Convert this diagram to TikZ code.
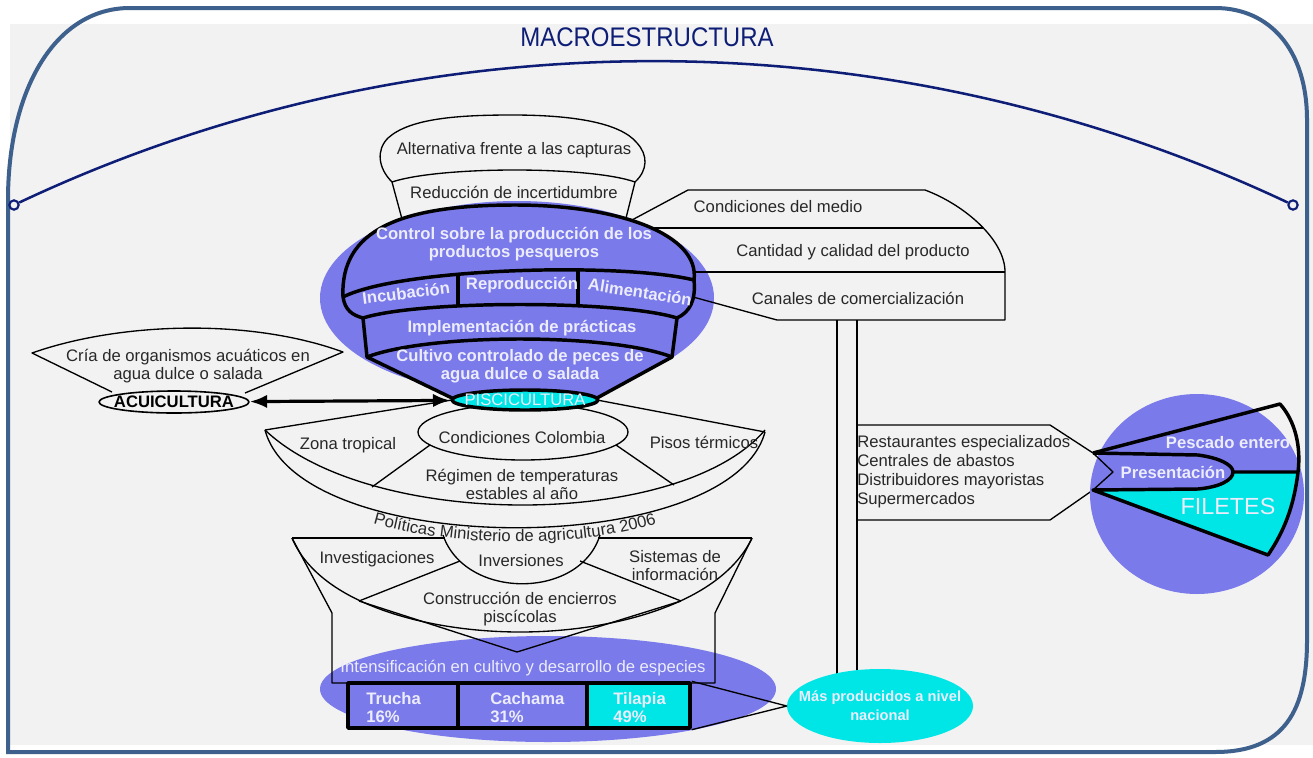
\documentclass[tikz,border=0pt]{standalone}
\usepackage{fontspec}
\setmainfont{Liberation Sans}
\usetikzlibrary{arrows.meta}
\usetikzlibrary{shapes.geometric}
\usetikzlibrary{decorations.text}
\definecolor{lila}{RGB}{122,122,234}
\definecolor{turquesa}{RGB}{0,229,229}
\definecolor{claro}{RGB}{236,236,252}
\definecolor{marino}{RGB}{14,30,118}
\definecolor{acero}{RGB}{62,96,140}
\definecolor{fondo}{RGB}{242,242,242}
\definecolor{tinta}{RGB}{40,40,40}
\tikzset{trazo/.style={draw=#1,line width=1pt,line join=round},trazo/.default=black}
\tikzset{grueso/.style={draw=#1,line width=2.6pt,line join=round},grueso/.default=black}

\begin{document}
\begin{tikzpicture}[x=0.75pt,y=-0.75pt,
                    rotulo/.style={text=tinta,font=\fontsize{12.5}{13.5}\selectfont,align=center,inner sep=0pt},
                    rotulob/.style={text=claro,font=\fontsize{12.5}{13.5}\selectfont\bfseries,align=center,inner sep=0pt},
                    elipse/.style={ellipse,inner sep=0pt},
                    celda/.style={rectangle,grueso,inner sep=0pt,minimum height=33.75pt}]

    % Fondo y marco
    \fill [white] (0,0) rectangle (1313,757);
    \fill [fondo] (10,24) rectangle (1313,745);
    \useasboundingbox (0,0) rectangle (1313,757);
    \draw [acero,line width=3pt] (8,752) -- (8,200) .. controls (8,90) and (55,8) .. (130,8)
        -- (1215,8) .. controls (1270,8) and (1307,50) .. (1307,120)
        -- (1307,640) .. controls (1307,710) and (1285,752) .. (1215,752) -- cycle;

    % Titulo y arco
    \node [text=marino,font=\fontsize{18}{20}\selectfont,yscale=1.12] (titulo) at (647,37) {MACROESTRUCTURA};
    \node [circle,draw=marino,fill=fondo,line width=1.6pt,minimum size=7pt,inner sep=0pt] (izq) at (14,205) {};
    \node [circle,draw=marino,fill=fondo,line width=1.6pt,minimum size=7pt,inner sep=0pt] (der) at (1293,205) {};
    \draw [marino,line width=1.9pt] (izq) .. controls (419,14) and (888,14) .. (der);

    % Elipse lila de arriba
    \fill [lila] (517,298) ellipse [x radius=197, y radius=97];

    % Cupula
    \draw [trazo] (392,182) .. controls (378,168) and (376,150) .. (388,138)
        .. controls (410,118) and (460,115) .. (512,115)
        .. controls (570,115) and (620,122) .. (637,143)
        .. controls (648,155) and (648,170) .. (635,182);
    \draw [trazo] (392,182) .. controls (440,166) and (590,166) .. (635,182);
    \draw [trazo] (392,182) -- (402,219) (635,182) -- (626,218);
    \node [rotulo] (alternativa) at (514,150) {Alternativa frente a las capturas};
    \node [rotulo] (reduccion) at (514,192) {Reducción de incertidumbre};

    % Bloque del control
    \filldraw [grueso,fill=lila] (343,297) .. controls (340,230) and (400,205) .. (515,205)
        .. controls (620,205) and (700,235) .. (694,280)
        .. controls (696,300) and (690,312) .. (677,318) -- (672,357) -- (597,398)
        -- (452,398) -- (367,357) -- (363,318)
        .. controls (352,315) and (345,310) .. (343,297) -- cycle;
    \draw [grueso] (343,297) .. controls (400,268) and (620,262) .. (694,280);
    \draw [grueso] (363,318) .. controls (420,300) and (620,300) .. (677,318);
    \draw [grueso] (367,357) .. controls (430,333) and (610,333) .. (672,357);
    \draw [grueso] (458,274) -- (458,306) (578,270) -- (578,306);
    \node [rotulob] (control) at (514,244) {Control sobre la producción de los\\productos pesqueros};
    \node [rotulob,rotate=7] (incubacion) at (406,293) {Incubación};
    \node [rotulob] (reproduccion) at (522,285) {Reproducción};
    \node [rotulob,rotate=-9] (alimentacion) at (640,292) {Alimentación};
    \node [rotulob] (practicas) at (522,328) {Implementación de prácticas};
    \node [rotulob] (cultivo) at (520,366) {Cultivo controlado de peces de\\agua dulce o salada};

    % Condiciones, cantidad, canales
    \draw [trazo] (632,220) -- (688,190) -- (925,190) .. controls (965,205) and (1005,240) .. (1005,272)
        -- (1005,320) -- (777,320) -- (693,297);
    \draw [trazo] (650,228) -- (983,228);
    \draw [trazo] (695,272) -- (1005,272);
    \node [rotulo] (medio) at (778,207) {Condiciones del medio};
    \node [rotulo] (cantidad) at (853,252) {Cantidad y calidad del producto};
    \node [rotulo] (canales) at (858,298) {Canales de comercialización};

    % Acuicultura
    \draw [trazo] (112,392) -- (32,353) .. controls (120,322) and (250,318) .. (343,352) -- (245,393);
    \node [rotulo] (cria) at (188,366) {Cría de organismos acuáticos en\\agua dulce o salada};
    \node [elipse,trazo,line width=1.2pt,fill=fondo,minimum width=112.5pt,minimum height=16.5pt] (acui) at (174,402) {};
    \node [rotulo,font=\fontsize{12.5}{13.5}\selectfont\bfseries,text=black] at (acui) {ACUICULTURA};

    % Condiciones Colombia
    \draw [trazo] (452,400) -- (265,430) (597,400) -- (765,432);
    \draw [trazo] (265,430) .. controls (370,530) and (680,530) .. (765,430);
    \draw [trazo] (265,430) .. controls (300,560) and (730,560) .. (765,432);
    \draw [trazo] (430,445) -- (372,487) (616,445) -- (674,485);
    \node [elipse,trazo,fill=fondo,minimum width=157.5pt,minimum height=42pt] (cond) at (523,432) {};
    \node [rotulo] at (522,438) {Condiciones Colombia};
    \node [rotulo] (zona) at (348,445) {Zona tropical};
    \node [rotulo] (pisos) at (704,442) {Pisos térmicos};
    \node [rotulo] (regimen) at (522,484) {Régimen de temperaturas\\estables al año};
    \path [decorate,decoration={text along path,text align=center,text color=tinta,
        text={|\fontsize{12.5}{14}\selectfont|Políticas Ministerio de agricultura 2006}}]
        (265,444) .. controls (300,574) and (730,574) .. (765,446);

    % Piscicultura
    \node [elipse,grueso,fill=turquesa,minimum width=109.5pt,minimum height=15pt] (pisci) at (525,400) {};
    \node [rotulo,text=claro] at (pisci) {PISCICULTURA};
    \draw [line width=2.4pt,{Latex[length=13pt,width=10pt]}-{Latex[length=13pt,width=10pt]}] (acui) -- (pisci);

    % Elipse lila de abajo
    \fill [lila] (548,689) ellipse [x radius=228, y radius=53];

    % Investigaciones
    \draw [trazo] (292,538) -- (445,538) (598,538) -- (752,538);
    \draw [trazo] (292,538) -- (332,613) -- (332,683) -- (715,683) -- (715,613) -- (752,538);
    \draw [trazo] (292,538) .. controls (320,605) and (430,632) .. (520,632)
        .. controls (610,632) and (720,605) .. (752,538);
    \draw [trazo] (359,601) -- (517,652) -- (681,601);
    \draw [trazo] (443,535) .. controls (465,600) and (580,600) .. (600,535);
    \draw [trazo] (460,561) -- (359,601) (580,561) -- (681,601);
    \node [rotulo] (investigaciones) at (377,559) {Investigaciones};
    \node [rotulo] (inversiones) at (521,561) {Inversiones};
    \node [rotulo] (sistemas) at (675,566) {Sistemas de\\información};
    \node [rotulo] (construccion) at (520,609) {Construcción de encierros\\piscícolas};
    \node [rotulo,text=claro] (intensificacion) at (523,668) {Intensificación en cultivo y desarrollo de especies};

    % Especies
    \node [celda,fill=lila,minimum width=82.5pt] (trucha) at (403,705.5) {};
    \node [celda,fill=lila,minimum width=96.75pt] (cachama) at (522.5,705.5) {};
    \node [celda,fill=turquesa,minimum width=77.25pt] (tilapia) at (638.5,705.5) {};
    \node [rotulob,anchor=west,align=left] at (366,708) {Trucha\\16\%};
    \node [rotulob,anchor=west,align=left] at (490,708) {Cachama\\31\%};
    \node [rotulob,anchor=west,align=left] at (613,708) {Tilapia\\49\%};

    % Columna y mas producidos
    \draw [trazo] (837,320) -- (837,690) (857,320) -- (857,690);
    \node [elipse,fill=turquesa,minimum width=139.5pt,minimum height=55.5pt] (mas) at (880,706) {};
    \node [rotulob,font=\fontsize{11}{14}\selectfont\bfseries] at (mas) {Más producidos a nivel\\nacional};
    \draw [trazo] (tilapia.north east) -- (mas.west) -- (tilapia.south east);

    % Canales de venta
    \draw [trazo] (857,425) -- (1050,425) -- (1093,453) (1093,490) -- (1050,520) -- (857,520);
    \node [rotulo,anchor=west,align=left,font=\fontsize{12.5}{14.25}\selectfont] (venta) at (857,472)
        {Restaurantes especializados\\Centrales de abastos\\Distribuidores mayoristas\\Supermercados};

    % Presentacion
    \fill [lila] (1197,494) ellipse [x radius=107, y radius=100];
    \draw [trazo] (1093,453) -- (1113,472) -- (1093,490);
    \filldraw [grueso,fill=turquesa] (1093,490) -- (1198,489) .. controls (1220,487) and (1233,480) .. (1233,472)
        -- (1298,472) .. controls (1294,505) and (1285,530) .. (1268,555) -- cycle;
    \draw [grueso] (1093,453) -- (1280,404) .. controls (1296,422) and (1301,448) .. (1298,472);
    \draw [grueso] (1093,453) -- (1198,455) .. controls (1220,458) and (1233,465) .. (1233,472);
    \node [rotulob] (entero) at (1228,443) {Pescado entero};
    \node [rotulob] (presentacion) at (1173,472) {Presentación};
    \node [rotulo,text=claro,font=\fontsize{17.5}{20}\selectfont] (filetes) at (1228,506) {FILETES};

\end{tikzpicture}
\end{document}
